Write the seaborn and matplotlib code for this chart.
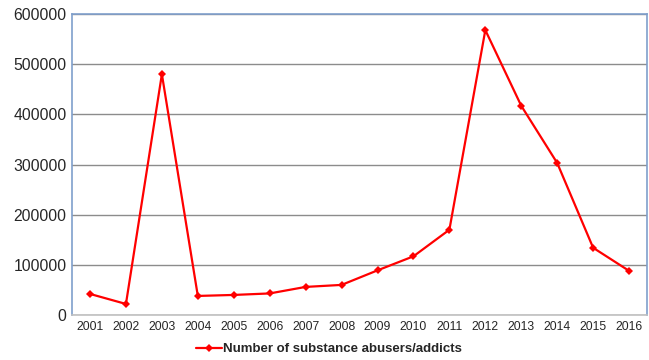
import matplotlib
matplotlib.use("Agg")
import matplotlib.pyplot as plt
import pandas as pd
import seaborn as sns

# data
years = [str(y) for y in range(2001, 2017)]
abusers = [42000, 22000, 480000, 38000, 40000, 43000, 56000, 60000,
           89000, 117000, 170000, 568000, 417000, 303000, 134000, 88000]
series_name = "Number of substance abusers/addicts"

df = pd.DataFrame({"year": years, "count": abusers})

sns.set_style("white")
plt.rcParams["font.family"] = ["Liberation Sans", "DejaVu Sans"]

fig = plt.figure(figsize=(6.49, 3.6), dpi=100)
ax = fig.add_axes([0.111, 0.125, 0.886, 0.836])

sns.lineplot(data=df, x="year", y="count", ax=ax, color="#ff0000",
             linewidth=1.6, marker="D", markersize=4, markeredgewidth=0,
             sort=False, label=series_name)

ax.set_xlim(-0.5, len(years) - 0.5)
ax.set_ylim(0, 600000)
ax.set_yticks(range(0, 600001, 100000))
ax.set_yticklabels([str(v) for v in range(0, 600001, 100000)], fontsize=11.3)
ax.tick_params(axis="x", labelsize=8.7, length=0, pad=4)
ax.tick_params(axis="y", length=0, pad=4)
ax.yaxis.grid(True, color="#8c8c8c", linewidth=1)
ax.set_axisbelow(True)
ax.set_xlabel("")
ax.set_ylabel("")

for side in ["left", "top", "right"]:
    ax.spines[side].set_color("#7f9fcc")
    ax.spines[side].set_linewidth(1.2)
ax.spines["bottom"].set_color("#c0c0c0")
ax.spines["bottom"].set_linewidth(1.2)

leg = ax.legend(loc="center", bbox_to_anchor=(0.447, -0.113), frameon=False,
                handlelength=1.9, handletextpad=0.1,
                prop={"family": ["Liberation Sans Narrow", "Liberation Sans"],
                      "weight": "bold", "size": 9.5})

fig.savefig("out.png", dpi=100)
